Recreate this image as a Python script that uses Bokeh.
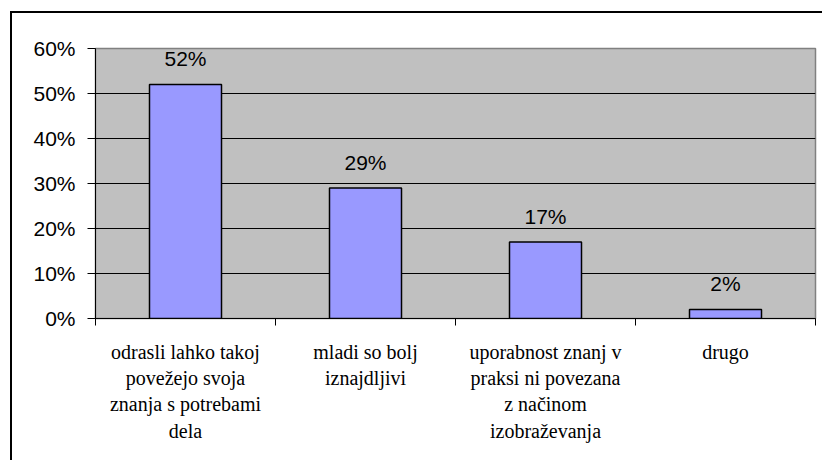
from bokeh.plotting import figure
from bokeh.models import FixedTicker, NumeralTickFormatter, Range1d, ColumnDataSource
from bokeh.core.properties import value
from bokeh.embed import file_html
from bokeh.resources import INLINE

categories = [
    "odrasli lahko takoj\npovežejo svoja\nznanja s potrebami\ndela",
    "mladi so bolj\niznajdljivi",
    "uporabnost znanj v\npraksi ni povezana\nz načinom\nizobraževanja",
    "drugo",
]
values = [0.52, 0.29, 0.17, 0.02]
value_labels = ["52%", "29%", "17%", "2%"]
y_ticks = [0.0, 0.1, 0.2, 0.3, 0.4, 0.5, 0.6]

xs = [i + 0.5 for i in range(len(categories))]
source = ColumnDataSource(dict(x=xs, top=values, lab=value_labels))

p = figure(
    width=812, height=449,
    x_range=Range1d(0, len(categories)), y_range=Range1d(0, 0.6),
    output_backend="svg", toolbar_location=None,
    min_border_left=83, min_border_right=9, min_border_top=35, min_border_bottom=144,
    background_fill_color="white", border_fill_color="white",
)
p.styles = {"border-left": "2px solid #000", "border-top": "2px solid #000",
            "margin-left": "10px", "margin-top": "11px"}
p.background_fill_color = "#C0C0C0"
p.outline_line_color = "#808080"
p.outline_line_width = 1.5

p.vbar(x="x", top="top", width=0.4, source=source,
       fill_color="#9999FF", line_color="black", line_width=1.5)

p.text(x="x", y="top", text="lab", source=source, y_offset=-26,
       text_align="center", text_baseline="alphabetic",
       text_font=value("Liberation Sans"), text_font_size="21px", text_color="black")

# y axis
p.yaxis.ticker = FixedTicker(ticks=y_ticks)
p.yaxis.formatter = NumeralTickFormatter(format="0%")
p.yaxis.major_label_text_font = "Liberation Sans"
p.yaxis.major_label_text_font_size = "21px"
p.yaxis.major_label_text_color = "black"
p.yaxis.major_tick_out = 8
p.yaxis.major_tick_in = 0
p.yaxis.minor_tick_out = 0
p.yaxis.minor_tick_in = 0
p.yaxis.axis_line_color = "black"
p.yaxis.major_tick_line_color = "black"
p.yaxis.major_label_standoff = 12

# x axis
p.xaxis.ticker = FixedTicker(ticks=xs, minor_ticks=list(range(len(categories) + 1)))
p.xaxis.major_label_overrides = {x: c for x, c in zip(xs, categories)}
p.xaxis.major_label_text_font = "Liberation Serif"
p.xaxis.major_label_text_font_size = "20px"
p.xaxis.major_label_text_color = "black"
p.xaxis.major_label_text_line_height = 1.2
p.xaxis.major_tick_out = 0
p.xaxis.major_tick_in = 0
p.xaxis.minor_tick_out = 7
p.xaxis.minor_tick_in = 0
p.xaxis.minor_tick_line_color = "black"
p.xaxis.axis_line_color = "black"
p.xaxis.major_label_standoff = 15

p.xgrid.visible = False
p.ygrid.ticker = FixedTicker(ticks=[0.1, 0.2, 0.3, 0.4, 0.5])
p.ygrid.grid_line_color = "black"
p.ygrid.grid_line_width = 1

open("out.html", "w").write(file_html(p, INLINE))
